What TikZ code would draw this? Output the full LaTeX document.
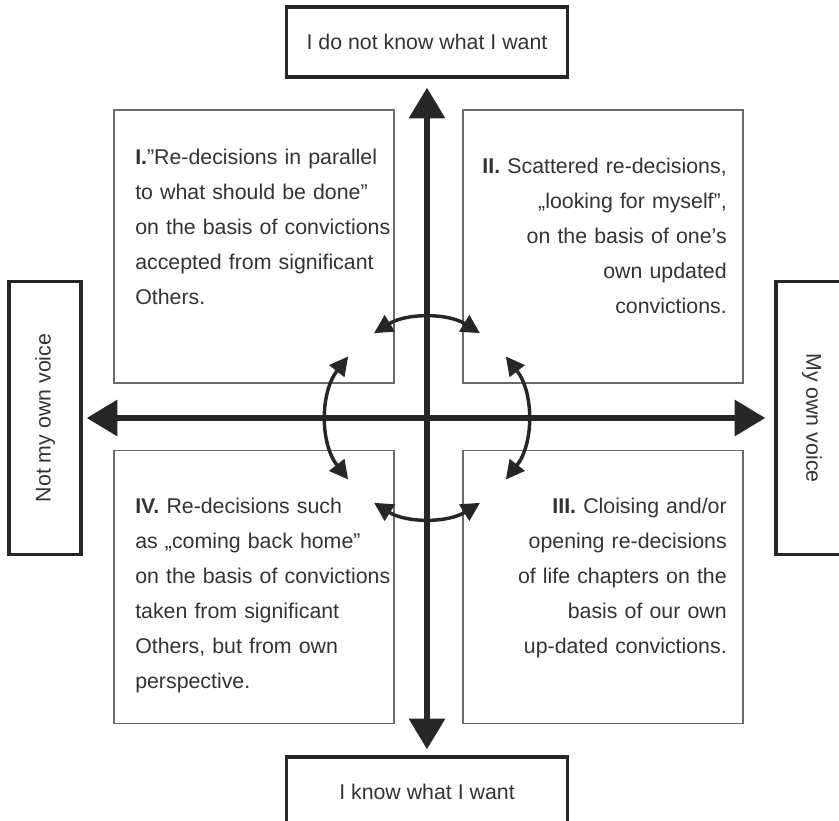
\documentclass[tikz,border=0pt]{standalone}
\usepackage{fontspec}
\setmainfont{Liberation Sans}
\usetikzlibrary{arrows.meta,positioning}

\definecolor{inkdark}{HTML}{262626}
\definecolor{inktext}{HTML}{333333}
\definecolor{boxgray}{HTML}{6A6A6A}

\tikzset{
  pole/.style={draw=inkdark, line width=2.4pt, fill=white, inner sep=0pt,
    minimum width={281*0.75pt}, minimum height={70*0.75pt},
    text=inktext, font=\fontsize{16}{19}\selectfont},
  sidepole/.style={pole, minimum width={273*0.75pt}, minimum height={72*0.75pt}},
  quadbox/.style={draw=boxgray, line width=1.1pt, inner sep=0pt,
    minimum width={280*0.75pt}, minimum height={273*0.75pt}},
  quadtext/.style={text=inktext, inner sep=0pt, text width={262*0.75pt},
    font=\fontsize{16}{26.25}\selectfont},
  axis/.style={draw=inkdark, line width=5.2pt,
    {Triangle[length=23pt,width=26pt]}-{Triangle[length=23pt,width=26pt]}},
  turn/.style={draw=inkdark, line width=2.6pt,
    {Triangle[length=14pt,width=14pt]}-{Triangle[length=14pt,width=14pt]}}
}

\begin{document}
\begin{tikzpicture}[x=0.75pt,y=0.75pt,yscale=-1,xscale=1]
\fill[white] (0,0) rectangle (839,821);
\useasboundingbox (0,0) rectangle (839,821);
\clip (0,0) rectangle (839,821);

% quadrant boxes
\node[quadbox] (q1) at (254,246.5) {};
\node[quadbox] (q2) at (603,246.5) {};
\node[quadbox] (q3) at (603,587) {};
\node[quadbox] (q4) at (254,587) {};

% quadrant texts
\node[quadtext, align=left, anchor=base west] (t1) at (135,164)
  {\textbf{I.}”Re-decisions in parallel\\to what should be done”\\on the basis of convictions\\accepted from significant\\Others.};
\node[quadtext, align=right, anchor=base east] (t2) at (727,173)
  {\textbf{II.} Scattered re-decisions,\\„looking for myself”,\\on the basis of one’s\\own updated\\convictions.};
\node[quadtext, align=right, anchor=base east] (t3) at (727,513)
  {\textbf{III.} Cloising and/or\\opening re-decisions\\of life chapters on the\\basis of our own\\up-dated convictions.};
\node[quadtext, align=left, anchor=base west] (t4) at (135,513)
  {\textbf{IV.} Re-decisions such\\as „coming back home”\\on the basis of convictions\\taken from significant\\Others, but from own\\perspective.};

% poles
\node[pole] (top) at (427,42) {I do not know what I want};
\node[pole] (bottom) at (427,792) {I know what I want};
\node[sidepole, rotate=90] (left) at (45,418) {Not my own voice};
\node[sidepole, rotate=-90] (right) at (812,418) {My own voice};

% axes
\draw[axis, shorten <=4.5pt, shorten >=6.75pt] (bottom.north) -- (top.south);
\draw[axis, shorten <=3pt, shorten >=6.75pt] (left.south) -- (right.south);

% circle of re-decisions
\coordinate (c) at (427,418);
\foreach \a/\h in {-90/32, 0/38, 90/32, 180/38}
  \draw[turn] ([shift={(\a-\h:100)}]c) arc[start angle=\a-\h, end angle=\a+\h, radius=100];

\end{tikzpicture}
\end{document}
